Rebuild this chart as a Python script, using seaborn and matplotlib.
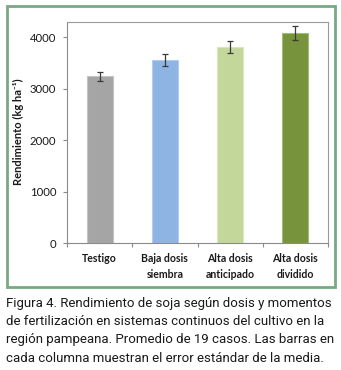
import matplotlib
matplotlib.use("Agg")
import matplotlib.pyplot as plt
import seaborn as sns
from matplotlib.patches import Rectangle

categorias = ["Testigo", "Baja dosis\nsiembra", "Alta dosis\nanticipado", "Alta dosis\ndividido"]
rendimiento = [3242, 3560, 3815, 4080]
error_std = [85, 110, 118, 136]
colores = ["#a5a5a5", "#8eb4e3", "#c4d79b", "#77933c"]
bordes = ["#c4c4c4", "#b3cdee", "#d9e6c2", "#a3bd76"]
yticks = [0, 1000, 2000, 3000, 4000]
caption = [
    "Figura 4. Rendimiento de soja según dosis y momentos",
    "de fertilización en sistemas continuos del cultivo en la",
    "región pampeana. Promedio de 19 casos. Las barras en",
    "cada columna muestran el error estándar de la media.",
]

sns.set_style("white")
plt.rcParams['font.family'] = ['Lato', 'DejaVu Sans']

W, H = 341, 370
fig = plt.figure(figsize=(W / 100, H / 100), dpi=100)
fig.patch.set_facecolor("white")

# green frame around chart
fig.patches.append(Rectangle((6.5 / W, 1 - 286.5 / H), (334.5 - 6.5) / W, (286.5 - 5.5) / H,
                             transform=fig.transFigure, fill=False,
                             edgecolor="#79a982", linewidth=2.0, zorder=0))

ax = fig.add_axes([67 / W, (H - 243) / H, 261 / W, (243 - 22) / H])
sns.barplot(x=categorias, y=rendimiento, hue=categorias, palette=colores,
            legend=False, width=0.4, errorbar=None, ax=ax, saturation=1)
for p, ec in zip(ax.patches, bordes):
    p.set_edgecolor(ec)
    p.set_linewidth(0.8)
ax.errorbar(range(len(categorias)), rendimiento, yerr=error_std, fmt="none",
            ecolor="#3a3a3a", elinewidth=0.9, capsize=2.2, capthick=0.9)

ax.set_xlim(-0.5, 3.5)
ax.set_ylim(0, 4300)
ax.set_yticks(yticks)
ax.set_yticklabels([str(v) for v in yticks])
ax.tick_params(axis="y", direction="out", length=3, width=0.8, color="#8a8a8a",
               labelsize=8.2, labelcolor="#1a1a1a", pad=4.8, left=True)
ax.set_xticks(range(len(categorias)))
ax.set_xticklabels(categorias, fontweight="bold", fontsize=7.6, color="#1a1a1a",
                   linespacing=1.55)
ax.tick_params(axis="x", length=0, pad=7)
ax.set_xticks([-0.5, 0.5, 1.5, 2.5, 3.5], minor=True)
ax.tick_params(axis="x", which="minor", direction="out", length=3, width=0.8,
               color="#8a8a8a", bottom=True)
ax.set_ylabel("")
fig.text(18.5 / W, 1 - 132 / H, "Rendimiento (kg ha⁻¹)", rotation=90,
         ha="center", va="center", fontweight="bold", fontsize=8,
         color="#1a1a1a", family=['Lato', 'DejaVu Sans'])
for s in ["left", "bottom"]:
    ax.spines[s].set_color("#8a8a8a")
    ax.spines[s].set_linewidth(0.8)
for s in ["top", "right"]:
    ax.spines[s].set_visible(True)
    ax.spines[s].set_color("#9a9a9a")
    ax.spines[s].set_linewidth(0.8)
ax.grid(False)

# caption
cap_font = ['Roboto', 'DejaVu Sans']
baselines = [306.5, 325, 343.5, 362]
texts = []
for line, yb in zip(caption, baselines):
    t = fig.text(6 / W, 1 - yb / H, line, ha="left", va="baseline", fontsize=11.2,
                 family=cap_font, color="#1a1a1a")
    texts.append(t)
renderer = fig.canvas.get_renderer()
widest = max(t.get_window_extent(renderer).width for t in texts)
scale = min(1.0, 329.0 / widest)
for t in texts:
    t.set_fontsize(11.2 * scale)

fig.savefig("out.png", dpi=100, facecolor="white")
